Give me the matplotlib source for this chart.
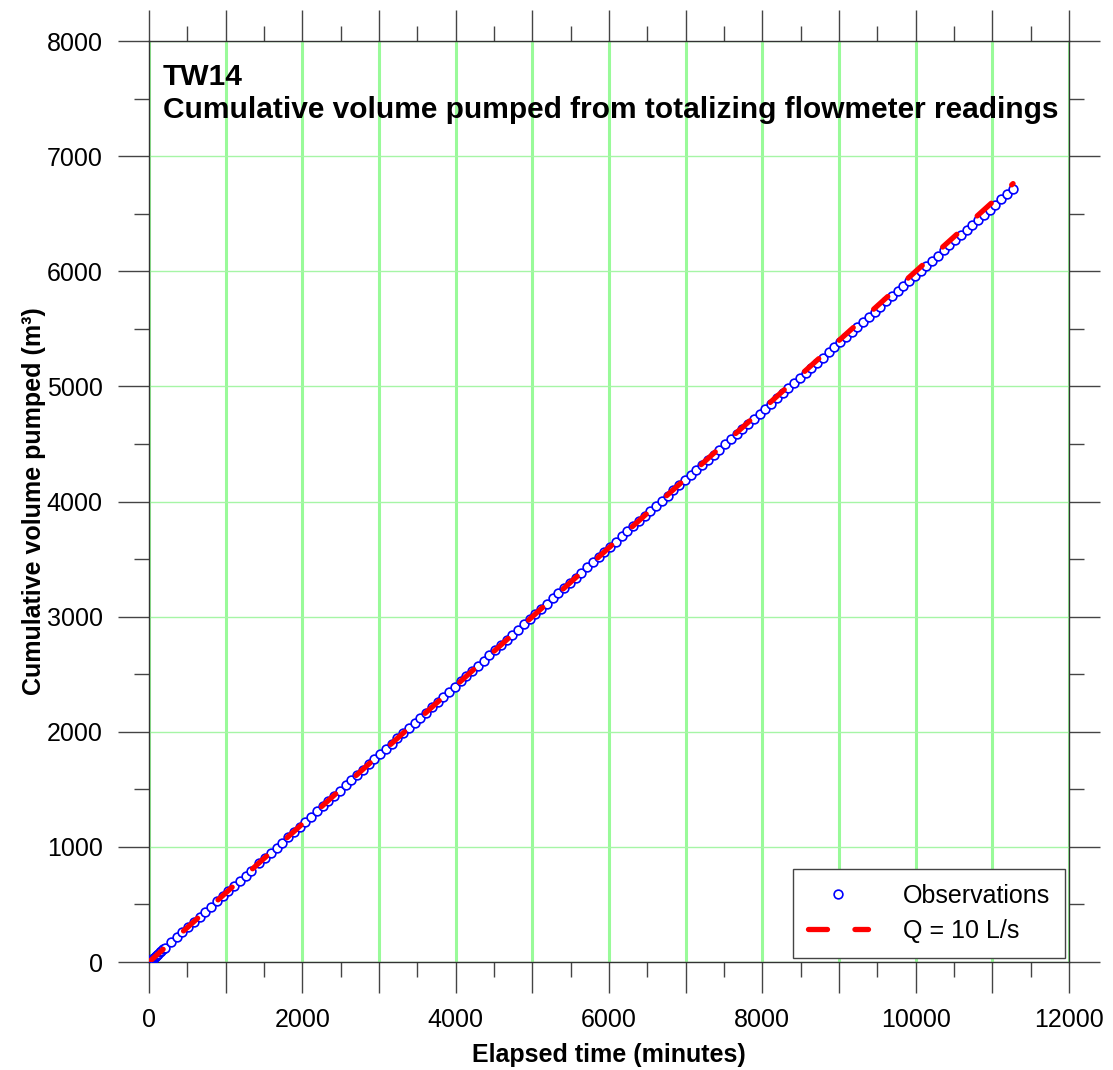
import matplotlib
matplotlib.use('Agg')
import matplotlib.pyplot as plt
from matplotlib.ticker import MultipleLocator, FuncFormatter

plt.rcParams['font.family'] = ['Liberation Sans', 'DejaVu Sans']

# observations (elapsed minutes, cumulative m3)
obs_time = [0, 3, 6, 10, 15, 20, 25, 30, 40, 50, 60, 75, 90, 105, 120, 140, 160, 185, 210,
            285, 360, 435, 510, 585, 660, 735, 810, 885, 960, 1035, 1110, 1185, 1260, 1335,
            1440, 1515, 1590, 1665, 1740, 1815, 1890, 1965, 2040, 2115, 2190, 2265, 2340,
            2415, 2490, 2565, 2640, 2715, 2790, 2865, 2940, 3015, 3090, 3165, 3240, 3315,
            3390, 3465, 3540, 3615, 3690, 3765, 3840, 3915, 3990, 4065, 4140, 4215, 4290,
            4365, 4440, 4515, 4590, 4665, 4740, 4815, 4890, 4965, 5040, 5115, 5190, 5265,
            5340, 5415, 5490, 5565, 5640, 5715, 5790, 5865, 5940, 6015, 6090, 6165, 6240,
            6315, 6390, 6465, 6540, 6615, 6690, 6765, 6840, 6915, 6990, 7065, 7140, 7215,
            7290, 7365, 7440, 7515, 7590, 7665, 7740, 7815, 7890, 7965, 8040, 8115, 8190,
            8265, 8340, 8415, 8490, 8565, 8640, 8715, 8790, 8865, 8940, 9015, 9090, 9165,
            9240, 9315, 9390, 9465, 9540, 9615, 9690, 9765, 9840, 9915, 9990, 10065, 10140,
            10215, 10290, 10365, 10440, 10515, 10590, 10665, 10740, 10815, 10890, 10965,
            11040, 11115, 11190, 11270]
obs_vol = [0, 2, 3, 6, 9, 12, 15, 18, 24, 30, 35, 45, 54, 62, 71, 83, 95, 110, 125,
           170, 214, 259, 304, 348, 393, 438, 482, 527, 572, 617, 661, 706, 751, 795,
           858, 903, 948, 993, 1038, 1084, 1129, 1174, 1219, 1264, 1310, 1355, 1400,
           1445, 1490, 1536, 1581, 1626, 1671, 1716, 1761, 1806, 1852, 1897, 1942, 1987,
           2032, 2077, 2122, 2167, 2212, 2257, 2302, 2347, 2392, 2437, 2482, 2528, 2573,
           2618, 2663, 2708, 2753, 2798, 2843, 2888, 2933, 2978, 3023, 3068, 3113, 3158,
           3203, 3248, 3293, 3338, 3383, 3428, 3473, 3518, 3563, 3608, 3653, 3697, 3741,
           3786, 3830, 3875, 3919, 3964, 4008, 4052, 4097, 4141, 4186, 4230, 4274, 4319,
           4363, 4408, 4452, 4496, 4541, 4585, 4629, 4674, 4718, 4763, 4807, 4851, 4896,
           4940, 4984, 5029, 5073, 5117, 5162, 5206, 5250, 5295, 5339, 5383, 5428, 5472,
           5516, 5561, 5605, 5649, 5694, 5738, 5782, 5826, 5871, 5915, 5959, 6004, 6048,
           6092, 6137, 6181, 6225, 6270, 6314, 6358, 6402, 6447, 6491, 6535,
           6580, 6624, 6668, 6715]

# Q = 10 L/s reference line
q_time = [0, 11270]
q_vol = [0, 6762]

x_max = 12000
y_max = 8000

fig = plt.figure(figsize=(11.13, 10.70), dpi=100)
ax = fig.add_axes([0.1339, 0.1009, 0.8266, 0.8607])

ax.plot(obs_time, obs_vol, linestyle='none', marker='o', ms=6.3, mfc='white',
        mec='#0000ff', mew=1.2, label='Observations', zorder=3)
ax.plot(q_time, q_vol, color='#ff0000', lw=3.8, dashes=(3.6, 5.2), dash_capstyle='round',
        label='Q = 10 L/s', zorder=4)

ax.set_xlim(0, x_max)
ax.set_ylim(0, y_max)

ax.xaxis.set_major_locator(MultipleLocator(1000))
ax.xaxis.set_minor_locator(MultipleLocator(500))
ax.yaxis.set_major_locator(MultipleLocator(1000))
ax.yaxis.set_minor_locator(MultipleLocator(500))
ax.xaxis.set_major_formatter(FuncFormatter(lambda v, p: '%d' % v if int(round(v)) % 2000 == 0 else ''))

ax.set_axisbelow(True)
ax.xaxis.grid(True, which='major', color='#99fa99', lw=2.2)
ax.yaxis.grid(True, which='major', color='#a6f5a6', lw=1.0)

ax.tick_params(which='both', direction='out', top=True, right=True,
               labeltop=False, labelright=False, color='#444444', width=1.0)
ax.tick_params(which='major', length=22.3, pad=11, labelsize=18)
ax.tick_params(which='minor', length=10.8)
for s in ax.spines.values():
    s.set_color('#333333')
    s.set_linewidth(1.0)

ax.set_xlabel('Elapsed time (minutes)', fontsize=18, fontweight='bold')
ax.set_ylabel('Cumulative volume pumped (m³)', fontsize=18, fontweight='bold')
ax.xaxis.set_label_coords(0.5, -0.088)
ax.yaxis.set_label_coords(-0.112, 0.5)

ax.text(0.0152, 0.9522, 'TW14', transform=ax.transAxes, fontsize=21.5,
        fontweight='bold', va='baseline', ha='left')
ax.text(0.0152, 0.9164, 'Cumulative volume pumped from totalizing flowmeter readings',
        transform=ax.transAxes, fontsize=21.5, fontweight='bold', va='baseline', ha='left')

leg = ax.legend(loc='lower right', fontsize=18, handlelength=2.4, handletextpad=1.4,
                borderpad=0.6, labelspacing=0.45, borderaxespad=0.16, fancybox=False,
                framealpha=1, edgecolor='#444444')
leg.get_frame().set_linewidth(1.0)

fig.savefig('out.png', dpi=100)
